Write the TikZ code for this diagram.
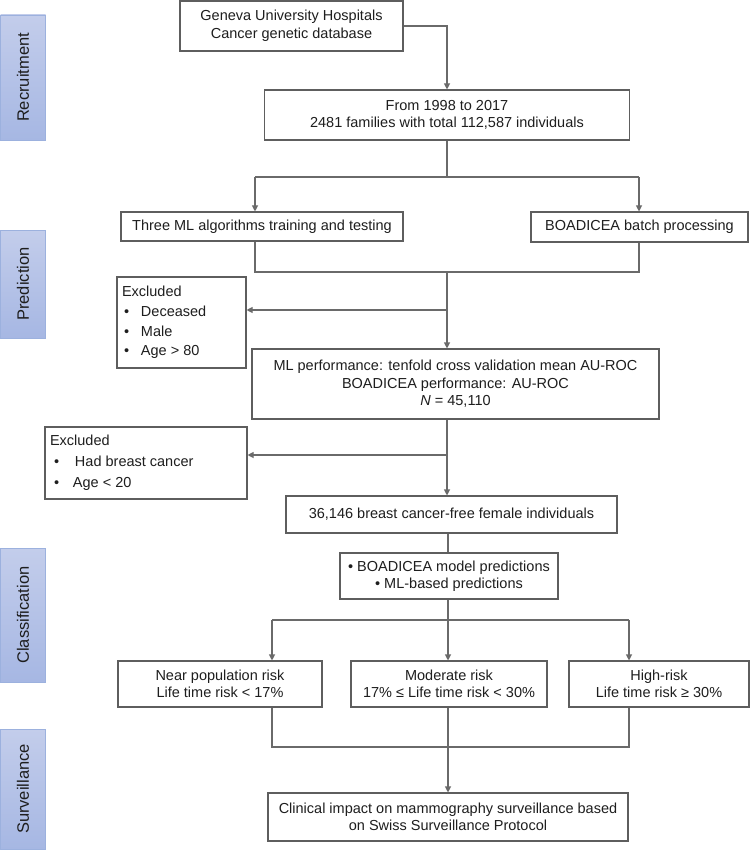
\documentclass[tikz,border=0pt]{standalone}
\usepackage{fontspec}
\setmainfont{Liberation Sans}
\usetikzlibrary{arrows.meta,calc}
\definecolor{linec}{HTML}{6A6A6A}
\definecolor{boxc}{HTML}{5E5E5E}
\definecolor{txtc}{HTML}{1E1E1E}
\definecolor{sidetop}{HTML}{C3CDEB}
\definecolor{sidebot}{HTML}{A6B7E3}
\definecolor{sideedge}{HTML}{9CB1DE}
\tikzset{
  box/.style={draw=boxc, line width=1.1pt, fill=white, inner sep=2pt, align=center,
    text=txtc, font=\fontsize{14.5}{17.5}\selectfont},
  conn/.style={draw=linec, line width=1.1pt},
  arr/.style={conn, -{Triangle[length=6pt,width=6pt]}},
  side/.style={draw=sideedge, line width=0.8pt, top color=sidetop, bottom color=sidebot,
    minimum width=45pt, text=txtc, font=\fontsize{16.5}{19}\selectfont, inner sep=0pt}
}
\begin{document}
\begin{tikzpicture}[x=1pt,y=-1pt]
\useasboundingbox (0,0) rectangle (750,850);
% side labels
\node[side, minimum height=125pt] (s1) at (23,77.5) {\rotatebox{90}{Recruitment}};
\node[side, minimum height=108pt] (s2) at (23,284) {\rotatebox{90}{Prediction}};
\node[side, minimum height=134pt] (s3) at (23,615) {\rotatebox{90}{Classification}};
\node[side, minimum height=120pt] (s4) at (23,789) {\rotatebox{90}{Surveillance}};
% boxes
\node[box, minimum width=223pt, minimum height=50pt] (geneva) at (291.5,26) {Geneva University Hospitals\\Cancer genetic database};
\node[box, minimum width=365pt, minimum height=50pt] (from) at (447,115) {From 1998 to 2017\\2481 families with total 112,587 individuals};
\node[box, minimum width=282pt, minimum height=29pt] (three) at (262,226.5) {Three ML algorithms training and testing};
\node[box, minimum width=217pt, minimum height=30pt] (boad) at (639.5,227) {BOADICEA batch processing};
\node[box, minimum width=129pt, minimum height=91pt, anchor=center, align=left] (excl1) at (181.5,322.5) {%
  \begin{minipage}[c]{119pt}\fontsize{14.5}{19.6}\selectfont
  Excluded\\
  \makebox[19pt][l]{\hspace{2pt}•}Deceased\\
  \makebox[19pt][l]{\hspace{2pt}•}Male\\
  \makebox[19pt][l]{\hspace{2pt}•}Age > 80
  \end{minipage}};
\node[box, minimum width=407pt, minimum height=70pt] (mlperf) at (455.5,384) {ML performance: tenfold cross validation mean AU-ROC\\BOADICEA performance: AU-ROC\\\textit{N} = 45,110};
\node[box, minimum width=202pt, minimum height=72pt, align=left] (excl2) at (146,463) {%
  \begin{minipage}[c]{192pt}\fontsize{14.5}{21}\selectfont
  Excluded\\
  \makebox[25pt][l]{\hspace{4pt}•}Had breast cancer\\
  \makebox[23pt][l]{\hspace{4pt}•}Age < 20
  \end{minipage}};
\node[box, minimum width=331pt, minimum height=37pt] (c36) at (451.5,514.5) {36,146 breast cancer-free female individuals};
\node[box, minimum width=218pt, minimum height=46pt] (preds) at (449,576) {• BOADICEA model predictions\\• ML-based predictions};
\node[box, minimum width=204pt, minimum height=46pt] (near) at (220,684) {Near population risk\\Life time risk < 17\%};
\node[box, minimum width=196pt, minimum height=46pt] (mod) at (449,684) {Moderate risk\\17\% ≤ Life time risk < 30\%};
\node[box, minimum width=180pt, minimum height=46pt] (high) at (659,684) {High-risk\\Life time risk ≥ 30\%};
\node[box, minimum width=360pt, minimum height=48pt] (clin) at (448,817) {Clinical impact on mammography surveillance based\\on Swiss Surveillance Protocol};
% junction coordinates
\coordinate (j1) at (447,177);
\coordinate (j1l) at (255,177);
\coordinate (j1r) at (639,177);
\coordinate (j2) at (447,272);
\coordinate (j2l) at (255,272);
\coordinate (j2r) at (639,272);
\coordinate (e1) at (447,310);
\coordinate (e2) at (447,455);
\coordinate (j3) at (448,620);
\coordinate (j3l) at (272,620);
\coordinate (j3r) at (629,620);
\coordinate (j4) at (448,747);
\coordinate (j4l) at (272,747);
\coordinate (j4r) at (629,747);
% connectors
\draw[arr] (geneva.east) -| (from.north);
\draw[conn] (from.south) -- (j1);
\draw[conn] (j1l) -- (j1r);
\draw[arr] (j1l) -- (j1l |- three.north);
\draw[arr] (j1r) -- (j1r |- boad.north);
\draw[conn] (j2l |- three.south) -- (j2l) -- (j2r) -- (j2r |- boad.south);
\draw[arr] (j2) -- (j2 |- mlperf.north);
\draw[arr] (e1) -- (e1 -| excl1.east);
\draw[arr] (e2 |- mlperf.south) -- (e2 |- c36.north);
\draw[arr] (e2) -- (e2 -| excl2.east);
\draw[conn] (j3 |- c36.south) -- (j3 |- preds.north);
\draw[conn] (j3 |- preds.south) -- (j3);
\draw[conn] (j3l) -- (j3r);
\draw[arr] (j3l) -- (j3l |- near.north);
\draw[arr] (j3) -- (j3 |- mod.north);
\draw[arr] (j3r) -- (j3r |- high.north);
\draw[conn] (j4l |- near.south) -- (j4l) -- (j4r) -- (j4r |- high.south);
\draw[conn] (j4 |- mod.south) -- (j4);
\draw[arr] (j4) -- (j4 |- clin.north);
\end{tikzpicture}
\end{document}
